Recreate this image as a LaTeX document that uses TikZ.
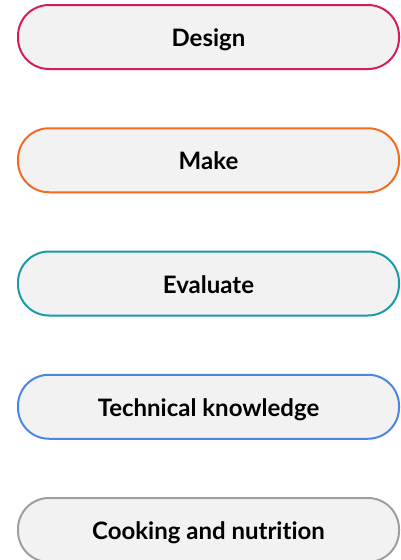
\documentclass[tikz,border=0pt]{standalone}
\usepackage{fontspec}
\setmainfont{Lato}[Ligatures=NoCommon]
\usepackage{tikz}

\definecolor{boxfill}{HTML}{F2F2F2}
\definecolor{designline}{HTML}{D81B5A}
\definecolor{makeline}{HTML}{F26B21}
\definecolor{evalline}{HTML}{1A9BA6}
\definecolor{techline}{HTML}{4A86E8}
\definecolor{cookline}{HTML}{9E9E9E}

\begin{document}
\begin{tikzpicture}[x=1pt,y=-1pt]
\tikzstyle{every node}+=[font=\bfseries\fontsize{24}{28}\selectfont, text=black]
\tikzstyle{pill}=[draw, line width=2pt, fill=boxfill, rounded corners=31pt, minimum width=381pt, minimum height=64pt, inner sep=0pt, text height=19pt, text depth=0pt]
\useasboundingbox (0,0) rectangle (401,560);
\clip (0,0) rectangle (401,560);
\node [pill, draw=designline] (design) at (208.5,37) {Design};
\node [pill, draw=makeline] (make) at (208.5,160.25) {Make};
\node [pill, draw=evalline] (evaluate) at (208.5,283.5) {Evaluate};
\node [pill, draw=techline] (technical) at (208.5,406.75) {Technical knowledge};
\node [pill, draw=cookline] (cooking) at (208.5,530) {Cooking and nutrition};
\end{tikzpicture}
\end{document}
